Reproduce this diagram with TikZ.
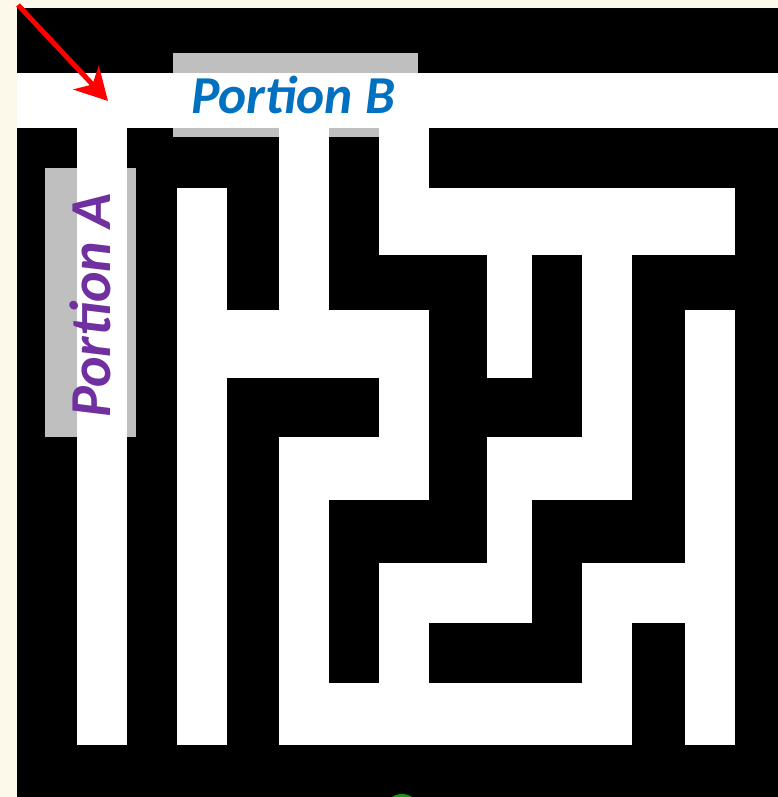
\documentclass[tikz,border=0pt]{standalone}
\usepackage{fontspec}
\setmainfont{Carlito}
\usetikzlibrary{arrows.meta}
\definecolor{cream}{RGB}{252,248,234}
\definecolor{boxgray}{RGB}{191,191,191}
\definecolor{pblue}{RGB}{0,112,192}
\definecolor{ppurple}{RGB}{112,48,160}
\definecolor{leafgreen}{RGB}{24,150,24}
\begin{document}
\begin{tikzpicture}[x=0.75pt,y=-0.75pt,
  wall/.style={fill=black},
  corridor/.style={fill=white},
  labelbox/.style={fill=boxgray},
  labeltext/.style={inner sep=0pt, anchor=base west, font=\bfseries\itshape},
  pointer/.style={draw=red, line width=3.75pt, -{Stealth[length=24pt,width=26pt,inset=7pt]}}]
\useasboundingbox (0,0) rectangle (778,797);
% background
\fill[cream] (0,0) rectangle (778,797);
% maze body
\fill[wall] (17,8) rectangle (778,797);
\fill[leafgreen] (402,806) ellipse [x radius=15, y radius=12];
% grey label boxes (behind the corridors)
\fill[labelbox] (173,53) rectangle (418,137);
\fill[labelbox] (45,168) rectangle (136,437);
% corridors
\fill[corridor] (17,73) rectangle (778,128);
\fill[corridor] (77,73) rectangle (127,745);
\fill[corridor] (177,188) rectangle (227,745);
\fill[corridor] (279,128) rectangle (329,378);
\fill[corridor] (279,437) rectangle (329,745);
\fill[corridor] (379,128) rectangle (429,255);
\fill[corridor] (379,188) rectangle (735,255);
\fill[corridor] (487,188) rectangle (532,378);
\fill[corridor] (582,188) rectangle (632,500);
\fill[corridor] (685,310) rectangle (735,745);
\fill[corridor] (177,310) rectangle (429,378);
\fill[corridor] (379,310) rectangle (429,500);
\fill[corridor] (279,437) rectangle (429,500);
\fill[corridor] (487,437) rectangle (632,500);
\fill[corridor] (487,437) rectangle (532,623);
\fill[corridor] (379,563) rectangle (532,623);
\fill[corridor] (379,563) rectangle (429,745);
\fill[corridor] (279,683) rectangle (632,745);
\fill[corridor] (582,563) rectangle (632,745);
\fill[corridor] (582,563) rectangle (735,623);
% labels
\node[labeltext, text=pblue, font=\fontsize{40}{40}\selectfont\bfseries\itshape] (portionB) at (191,113) {Portion B};
\node[labeltext, text=ppurple, rotate=90, font=\fontsize{43.5}{43.5}\selectfont\bfseries\itshape] (portionA) at (110,418) {Portion A};
% red pointer
\coordinate (arrowStart) at (18,5);
\coordinate (arrowTip) at (108,101);
\draw[pointer] (arrowStart) -- (arrowTip);
\end{tikzpicture}
\end{document}
